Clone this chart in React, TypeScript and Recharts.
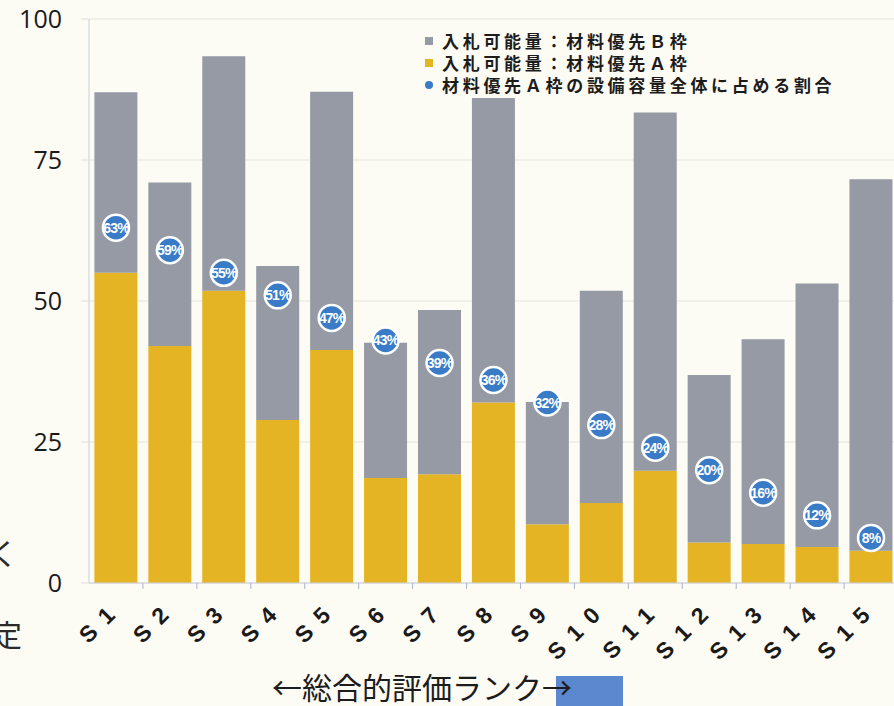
import { ComposedChart, Bar, Line, XAxis, YAxis, CartesianGrid, Legend } from 'recharts';

// ranks S1..S15, left = best overall evaluation
const categories = ['S1', 'S2', 'S3', 'S4', 'S5', 'S6', 'S7', 'S8', 'S9', 'S10', 'S11', 'S12', 'S13', 'S14', 'S15'];
// 入札可能量：材料優先Ａ枠
const slotA = [55, 42, 51.8, 28.9, 41.3, 18.6, 19.3, 32, 10.4, 14.2, 19.9, 7.2, 6.9, 6.4, 5.7];
// 入札可能量：材料優先Ｂ枠
const slotB = [32, 29, 41.6, 27.3, 45.8, 24, 29.1, 54, 21.7, 37.6, 63.5, 29.7, 36.3, 46.7, 65.9];
// 材料優先Ａ枠の設備容量全体に占める割合 (%)
const shareA = [63, 59, 55, 51, 47, 43, 39, 36, 32, 28, 24, 20, 16, 12, 8];
const yTicks = [0, 25, 50, 75, 100];

const seriesNames = {
  b: '入札可能量：材料優先Ｂ枠',
  a: '入札可能量：材料優先Ａ枠',
  share: '材料優先Ａ枠の設備容量全体に占める割合',
};

const GOLD = '#e4b424';
const GRAY = '#959aa5';
const BLUE = '#3a7bc8';
const BG = '#fcfbf4';

const data = categories.map((name, i) => ({ name, a: slotA[i], b: slotB[i], share: shareA[i] }));

const ShareDot = (props: any) => {
  const { cx, cy, value, index } = props;
  if (cx == null || cy == null) return <g key={`dot-${index}`} />;
  return (
    <g key={`dot-${index}`}>
      <circle cx={cx} cy={cy} r={13} fill={BLUE} stroke="#ffffff" strokeWidth={2.5} />
      <text
        x={cx}
        y={cy}
        dy={5}
        textAnchor="middle"
        fill="#ffffff"
        fontSize={14}
        fontWeight="bold"
        fontFamily="'Liberation Sans', Arial, sans-serif"
        letterSpacing={-0.8}
      >
        {value}%
      </text>
    </g>
  );
};

const ValueTick = (props: any) => {
  const { y, payload } = props;
  return (
    <text
      x={62}
      y={y}
      dy={9}
      textAnchor="end"
      fontSize={25}
      fill="#1a1a1a"
      fontFamily="'Open Sans', sans-serif"
    >
      {payload.value}
    </text>
  );
};

const RankTick = (props: any) => {
  const { x, y, payload, index } = props;
  const half = 53.9 / 2;
  return (
    <g>
      {index > 0 && <line x1={x - half} y1={583} x2={x - half} y2={589} stroke="#a9b4cc" />}
      <text
        transform={`translate(${x + 8},${y + 18}) rotate(-45)`}
        textAnchor="end"
        fontSize={23}
        fontWeight="bold"
        letterSpacing={11}
        fill="#1a1a1a"
        fontFamily="'Liberation Sans', Arial, sans-serif"
      >
        {payload.value}
      </text>
    </g>
  );
};

const renderLegend = () => {
  const rows = [
    { label: seriesNames.b, color: GRAY, round: false },
    { label: seriesNames.a, color: GOLD, round: false },
    { label: seriesNames.share, color: BLUE, round: true },
  ];
  return (
    <div style={{ fontFamily: "'Noto Sans CJK JP', sans-serif" }}>
      {rows.map((r) => (
        <div key={r.label} style={{ display: 'flex', alignItems: 'center', height: 22 }}>
          <span
            style={{
              display: 'inline-block',
              width: 8,
              height: 8,
              background: r.color,
              borderRadius: r.round ? 4 : 0,
              marginRight: 9,
            }}
          />
          <span style={{ fontSize: 17, lineHeight: '22px', fontWeight: 'bold', letterSpacing: 3.7, color: '#1c1c1c', whiteSpace: 'nowrap' }}>
            {r.label}
          </span>
        </div>
      ))}
    </div>
  );
};

export default function App() {
  return (
    <div style={{ position: 'absolute', left: 0, top: 0, width: 894, height: 706, overflow: 'hidden', background: BG }}>
      <ComposedChart
        width={905}
        height={706}
        data={data}
        margin={{ top: 19, right: 7, left: 29, bottom: 63 }}
        barCategoryGap="10%"
      >
        <CartesianGrid vertical={false} stroke="#e4e4de" />
        <XAxis
          dataKey="name"
          height={60}
          axisLine={{ stroke: '#c9cfdc' }}
          tickLine={false}
          interval={0}
          tick={RankTick}
        />
        <YAxis
          width={60}
          domain={[0, 100]}
          ticks={yTicks}
          axisLine={{ stroke: '#c9cfdc' }}
          tickLine={{ stroke: '#e0e0da' }}
          tickSize={8}
          tick={ValueTick}
        />
        <Legend
          content={renderLegend}
          layout="vertical"
          align="center"
          verticalAlign="middle"
          wrapperStyle={{ position: 'absolute', top: 30, left: 425, width: 460 }}
        />
        <Bar dataKey="a" name={seriesNames.a} stackId="s" fill={GOLD} isAnimationActive={false} />
        <Bar dataKey="b" name={seriesNames.b} stackId="s" fill={GRAY} isAnimationActive={false} />
        <Line
          dataKey="share"
          name={seriesNames.share}
          stroke="none"
          dot={ShareDot}
          activeDot={false}
          isAnimationActive={false}
        />
      </ComposedChart>
      <svg
        width={894}
        height={706}
        style={{ position: 'absolute', left: 0, top: 0, pointerEvents: 'none' }}
      >
        <rect x={556} y={676} width={67} height={30} fill="#5b88cf" />
        <text x={272} y={699} fontSize={30} fill="#1c1c1c" fontFamily="'Noto Sans CJK JP', sans-serif">
          ←総合的評価ランク→
        </text>
        <text x={-12} y={565} fontSize={30} fill="#2a2a2a" fontFamily="'Noto Sans CJK JP', sans-serif">
          く
        </text>
        <text x={-8} y={646} fontSize={30} fill="#2a2a2a" fontFamily="'Noto Sans CJK JP', sans-serif">
          定
        </text>
      </svg>
    </div>
  );
}
